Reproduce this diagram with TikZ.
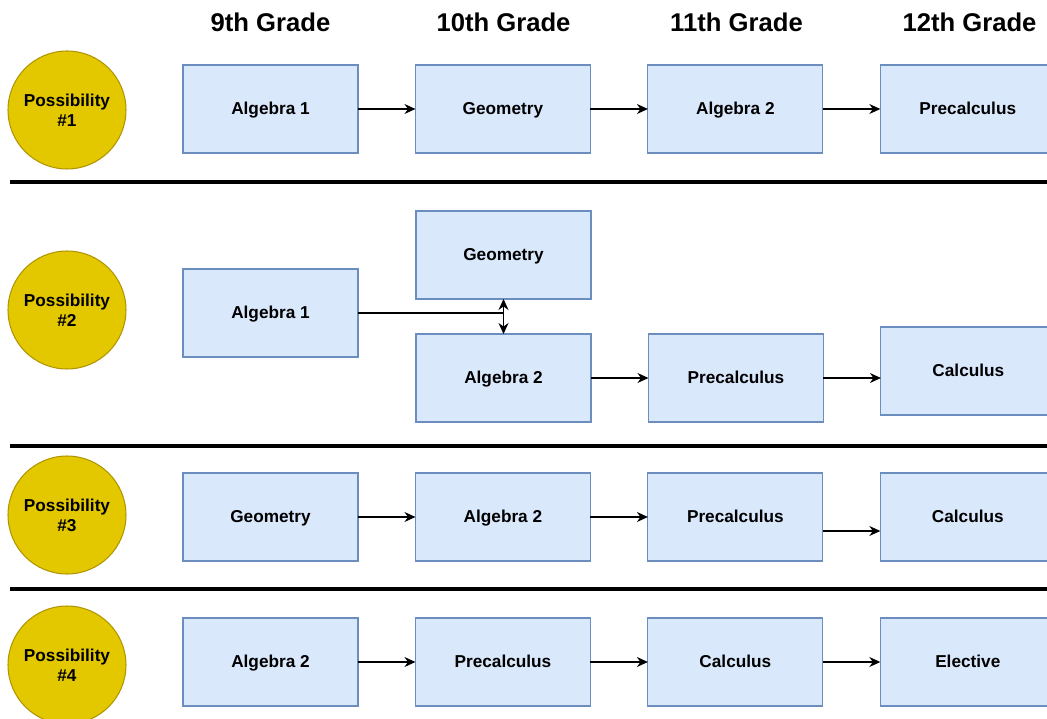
\documentclass[tikz,border=0pt]{standalone}
\usepackage{fontspec}
\setmainfont{Liberation Sans}
\usepackage{tikz}
\usetikzlibrary{arrows.meta}
\usetikzlibrary{positioning}
\definecolor{boxfill}{HTML}{DAE8FC}
\definecolor{boxline}{HTML}{6C8EBF}
\definecolor{dotfill}{HTML}{E3C800}
\definecolor{dotline}{HTML}{B09500}
\tikzset{
    course/.style={
           rectangle,
           draw=boxline,
           fill=boxfill,
           line width=0.6pt,
           outer sep=0pt,
           minimum width=3.5cm,
           minimum height=1.76cm,
           text height=1.5ex,
           text depth=0.3ex,
           font=\bfseries\fontsize{9.8}{11}\selectfont,
           text centered,
           },
    choice/.style={
           circle,
           draw=dotline,
           fill=dotfill,
           line width=0.6pt,
           minimum size=2.36cm,
           inner sep=0pt,
           align=center,
           font=\bfseries\fontsize{9.8}{11.5}\selectfont,
           },
    grade/.style={
           font=\bfseries\fontsize{14.6}{16}\selectfont,
           },
    divider/.style={
           line width=2.3pt,
           },
}

\begin{document}
\begin{tikzpicture}[x=0.02cm,y=-0.02cm,->,>={Stealth[length=2.2mm,width=2mm]},
    node distance=1.16cm-0.3pt,semithick]
 \useasboundingbox (0,0) rectangle (1047,719);

 % grade headers
 \node[grade] (G9)  at (270.5,22) {9th Grade};
 \node[grade] (G10) at (503.5,22) {10th Grade};
 \node[grade] (G11) at (736.5,22) {11th Grade};
 \node[grade] (G12) at (969.5,22) {12th Grade};

 % possibility 1
 \node[choice] (P1) at (67,110) {Possibility\\\#1};
 \node[course] (A1ALG1) at (270.5,109) {Algebra 1};
 \node[course,right=of A1ALG1] (A1GEO) {Geometry};
 \node[course,right=of A1GEO] (A1ALG2) {Algebra 2};
 \node[course,right=of A1ALG2] (A1PRE) {Precalculus};
 \path (A1ALG1) edge (A1GEO)
       (A1GEO) edge (A1ALG2)
       (A1ALG2) edge (A1PRE);

 \draw[-,divider] (10,182) -- (1047,182);

 % possibility 2
 \node[choice] (P2) at (67,310) {Possibility\\\#2};
 \node[course] (A2ALG1) at (270.5,313) {Algebra 1};
 \node[course] (A2GEO) at (503.5,255) {Geometry};
 \node[course] (A2ALG2) at (503.5,378) {Algebra 2};
 \node[course,right=of A2ALG2] (A2PRE) {Precalculus};
 \node[course,right=of A2PRE,yshift=0.14cm] (A2CALC) {Calculus};
 \coordinate (SPLIT) at (A2GEO.south |- A2ALG1.east);
 \draw[-] (A2ALG1.east) -- (SPLIT);
 \draw[<->] (A2GEO.south) -- (A2ALG2.north);
 \draw (A2ALG2) -- (A2PRE);
 \draw (A2PRE.east) -- (A2PRE.east -| A2CALC.west);

 \draw[-,divider] (10,446) -- (1047,446);

 % possibility 3
 \node[choice] (P3) at (67,515) {Possibility\\\#3};
 \node[course] (A3GEO) at (270.5,517) {Geometry};
 \node[course,right=of A3GEO] (A3ALG2) {Algebra 2};
 \node[course,right=of A3ALG2] (A3PRE) {Precalculus};
 \node[course,right=of A3PRE] (A3CALC) {Calculus};
 \path (A3GEO) edge (A3ALG2)
       (A3ALG2) edge (A3PRE);
 \draw ([yshift=-0.28cm]A3PRE.east) -- ([yshift=-0.28cm]A3CALC.west);

 \draw[-,divider] (10,589) -- (1047,589);

 % possibility 4
 \node[choice] (P4) at (67,665) {Possibility\\\#4};
 \node[course] (A4ALG2) at (270.5,662) {Algebra 2};
 \node[course,right=of A4ALG2] (A4PRE) {Precalculus};
 \node[course,right=of A4PRE] (A4CALC) {Calculus};
 \node[course,right=of A4CALC] (A4ELEC) {Elective};
 \path (A4ALG2) edge (A4PRE)
       (A4PRE) edge (A4CALC)
       (A4CALC) edge (A4ELEC);
\end{tikzpicture}
\end{document}
